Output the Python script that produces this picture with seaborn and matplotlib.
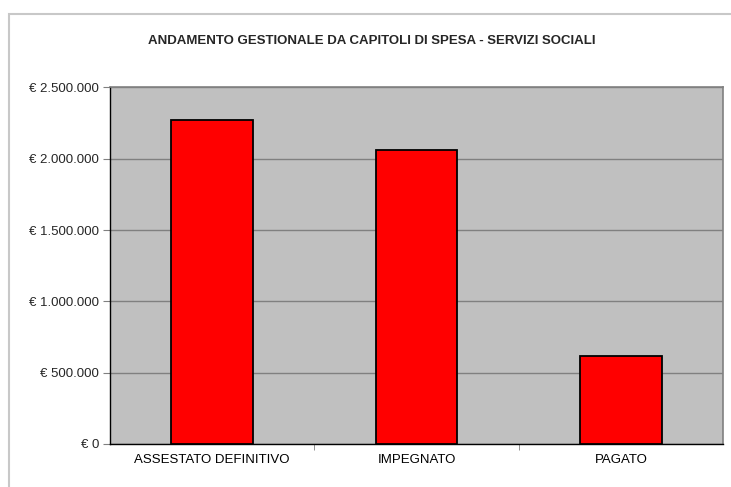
import pandas as pd
import seaborn as sns
import matplotlib.pyplot as plt
from matplotlib.patches import Rectangle
from matplotlib.ticker import FuncFormatter, FixedLocator

# dati (euro)
voci = ["ASSESTATO DEFINITIVO", "IMPEGNATO", "PAGATO"]
importi = [2271000, 2065000, 618000]
y_ticks = [0, 500000, 1000000, 1500000, 2000000, 2500000]

df = pd.DataFrame({"voce": voci, "importo": importi})

sns.set_style("white")
plt.rcParams["font.family"] = ["Liberation Sans", "DejaVu Sans"]

fig = plt.figure(figsize=(7.31, 4.87), dpi=100)
ax = fig.add_axes([110 / 731, 1 - 444 / 487, (723 - 110) / 731, (444 - 87.5) / 487])

sns.barplot(data=df, x="voce", y="importo", color="#FF0000", saturation=1,
            width=0.4, edgecolor="black", linewidth=1.3, ax=ax, zorder=3)

ax.set_facecolor("#C0C0C0")
ax.set_xlim(-0.5, 2.5)
ax.set_ylim(0, 2500000)
ax.set_yticks(y_ticks)
ax.yaxis.set_major_formatter(FuncFormatter(lambda v, p: "€ " + f"{int(v):,}".replace(",", ".")))
ax.grid(axis="y", color="#808080", linewidth=1, zorder=0)
ax.set_axisbelow(True)

ax.xaxis.set_minor_locator(FixedLocator([0.5, 1.5]))
ax.tick_params(axis="x", which="major", length=0, labelsize=9.5, pad=7, colors="black")
ax.tick_params(axis="x", which="minor", length=4, color="#808080", bottom=True)
ax.tick_params(axis="y", length=5, width=0.8, color="#808080", labelsize=9.5, pad=3, left=True)
ax.set_xlabel("")
ax.set_ylabel("")

for s in ["top", "right"]:
    ax.spines[s].set_color("#808080")
    ax.spines[s].set_linewidth(1.2)
for s in ["left", "bottom"]:
    ax.spines[s].set_color("black")
    ax.spines[s].set_linewidth(1.0)

fig.text(372 / 731, 1 - 41 / 487, "ANDAMENTO GESTIONALE DA CAPITOLI DI SPESA - SERVIZI SOCIALI",
         ha="center", va="center", fontsize=9.5, fontweight="bold")

# cornice del grafico
fig.patches.append(Rectangle((9 / 731, -0.1), 1.2, 1 - 14 / 487 + 0.1, transform=fig.transFigure,
                             fill=False, edgecolor="#C8C8C8", linewidth=1.5))

fig.savefig("out.png", dpi=100)
